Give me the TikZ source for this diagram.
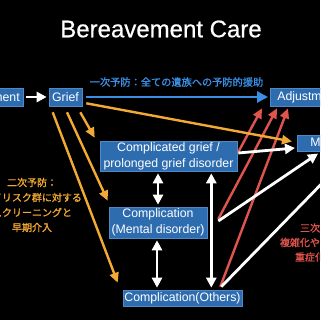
\documentclass[tikz,border=0pt]{standalone}
\usepackage{fontspec}
\setmainfont{Liberation Sans}
\newfontfamily\jp[FakeBold=1.2]{Noto Sans CJK JP}
\newfontfamily\ttl[FakeBold=0.6]{Liberation Sans}
\usetikzlibrary{arrows.meta}
\definecolor{boxblue}{RGB}{46,108,176}
\definecolor{boxedge}{RGB}{78,138,200}
\definecolor{lblue}{RGB}{58,142,228}
\definecolor{aorange}{RGB}{242,170,52}
\definecolor{ared}{RGB}{224,84,78}
\tikzset{
  box/.style={fill=boxblue, draw=boxedge, line width=0.6pt, text=white, inner sep=0pt,
    font=\fontsize{12.3}{16}\selectfont},
  warr/.style={draw=white, line width=2.8pt, -{Triangle[length=10pt,width=10pt]}},
  wdbl/.style={draw=white, line width=2.8pt, {Triangle[length=10pt,width=10pt]}-{Triangle[length=10pt,width=10pt]}},
  barr/.style={draw=lblue, line width=2.8pt, -{Triangle[length=11pt,width=11pt]}},
  oarr/.style={draw=aorange, line width=2.4pt, -{Triangle[length=10pt,width=9pt]}},
  rarr/.style={draw=ared, line width=2.4pt, -{Triangle[length=10pt,width=9pt]}},
}
\begin{document}
\begin{tikzpicture}[x=1pt,y=-1pt]
\useasboundingbox (0,0) rectangle (320,320);
\fill[black] (0,0) rectangle (320,320);
\clip (0,0) rectangle (320,320);

\node[text=white, font=\ttl\fontsize{24}{26}\selectfont] (title) at (161,29) {Bereavement Care};

\node[box, anchor=east, minimum height=18pt, inner xsep=4pt] (ber) at (24,97) {Bereavement};
\node[box, minimum width=33pt, minimum height=18pt] (grief) at (65.5,97) {Grief};
\node[box, anchor=west, minimum height=18pt, inner xsep=7pt] (adj) at (270,97) {Adjustment};
\node[box, anchor=west, minimum height=15.5pt, inner xsep=13pt] (mal) at (297,143.5) {Maladjustment};
\node[box, minimum width=137pt, minimum height=30pt, align=center] (cg) at (168.5,156) {Complicated grief /\\prolonged grief disorder};
\node[box, minimum width=98pt, minimum height=31pt, align=center] (md) at (158,222.5) {Complication\\(Mental disorder)};
\node[box, minimum width=119pt, minimum height=16pt] (oth) at (182.5,298) {Complication(Others)};

\node[text=lblue, font=\jp\fontsize{10.2}{12}\selectfont] (p1) at (176.5,82) {一次予防：全ての遺族への予防的援助};
\node[text=aorange, font=\jp\fontsize{10}{15}\selectfont, align=center] (p2) at (32,205) {二次予防：\\ハイリスク群に対する\\スクリーニングと\\早期介入};
\node[text=ared, font=\jp\fontsize{10}{14.5}\selectfont, align=center] (p3) at (325,242.5) {三次予防：\\複雑化や遷延化への\\重症化の予防};

% red
\draw[rarr] ([xshift=1pt,yshift=4pt]cg.east) -- ([xshift=-8pt,yshift=-2pt]adj.south west);
\draw[rarr] ([xshift=11pt,yshift=3.5pt]md.east) -- ([xshift=7pt,yshift=-2pt]adj.south west);
\draw[rarr] ([xshift=-22pt,yshift=3pt]oth.north east) -- ([xshift=18pt,yshift=-2pt]adj.south west);

% orange
\draw[oarr] ([xshift=4pt,yshift=3pt]grief.south east) -- ([xshift=-5pt,yshift=2pt]mal.west);
\draw[oarr] ([xshift=-2pt,yshift=-6pt]grief.south east) -- ([xshift=-5pt,yshift=3pt]cg.north west);
\draw[oarr] ([xshift=1.5pt,yshift=-6pt]grief.south) -- ([xshift=-1pt,yshift=6pt]md.north west);
\draw[oarr] ([xshift=4pt,yshift=-6pt]grief.south west) -- ([xshift=-5pt,yshift=7pt]oth.north west);

% white / blue
\draw[warr] ([xshift=2pt]ber.east) -- ([xshift=-2pt]grief.west);
\draw[barr] ([xshift=4pt]grief.east) -- ([xshift=-2pt]adj.west);
\draw[wdbl] ([xshift=-10.5pt,yshift=-2pt]cg.south) -- ([yshift=2pt]md.north);
\draw[wdbl] ([xshift=-1pt,yshift=-2pt]md.south) -- ([xshift=-25.5pt,yshift=2pt]oth.north);
\draw[wdbl] ([xshift=-26pt,yshift=-2pt]cg.south east) -- ([xshift=-31pt,yshift=2pt]oth.north east);
\draw[warr] ([xshift=1pt,yshift=3pt]cg.east) -- ([xshift=-2pt,yshift=-4.5pt]mal.west);
\draw[warr] ([xshift=11pt,yshift=1.5pt]md.east) -- ([xshift=21pt,yshift=-2pt]mal.south west);
\draw[warr] ([xshift=-21pt,yshift=3pt]oth.north east) -- ([xshift=55pt,yshift=-1pt]mal.south west);
\end{tikzpicture}
\end{document}
